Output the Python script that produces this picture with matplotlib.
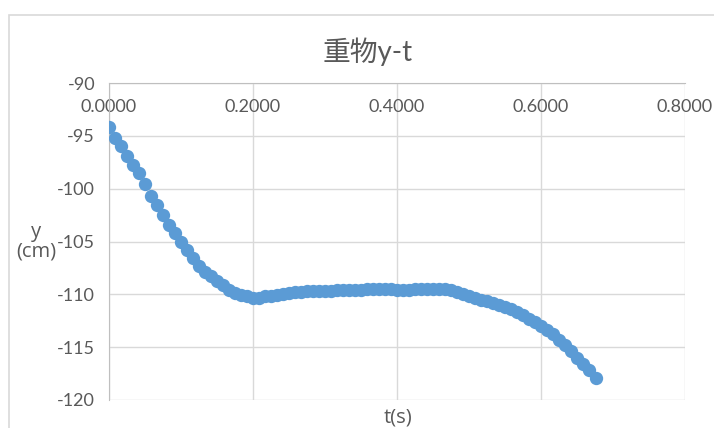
import matplotlib
matplotlib.use("Agg")
import matplotlib.pyplot as plt
from matplotlib.patches import Rectangle

# time (s), sampled every frame
t = [0.0000, 0.0083, 0.0167, 0.0250, 0.0333, 0.0417, 0.0500, 0.0583, 0.0667, 0.0750,
     0.0833, 0.0917, 0.1000, 0.1083, 0.1167, 0.1250, 0.1333, 0.1417, 0.1500, 0.1583,
     0.1667, 0.1750, 0.1833, 0.1917, 0.2000, 0.2083, 0.2167, 0.2250, 0.2333, 0.2417,
     0.2500, 0.2583, 0.2667, 0.2750, 0.2833, 0.2917, 0.3000, 0.3083, 0.3167, 0.3250,
     0.3333, 0.3417, 0.3500, 0.3583, 0.3667, 0.3750, 0.3833, 0.3917, 0.4000, 0.4083,
     0.4167, 0.4250, 0.4333, 0.4417, 0.4500, 0.4583, 0.4667, 0.4750, 0.4833, 0.4917,
     0.5000, 0.5083, 0.5167, 0.5250, 0.5333, 0.5417, 0.5500, 0.5583, 0.5667, 0.5750,
     0.5833, 0.5917, 0.6000, 0.6083, 0.6167, 0.6250, 0.6333, 0.6417, 0.6500, 0.6583,
     0.6667, 0.6770]

# height of the weight (cm)
y = [-94.2, -95.2, -96.0, -96.9, -97.8, -98.5, -99.6, -100.7, -101.5, -102.5,
     -103.4, -104.2, -105.0, -105.8, -106.6, -107.3, -107.9, -108.3, -108.7, -109.1,
     -109.6, -109.9, -110.1, -110.2, -110.3, -110.3, -110.2, -110.2, -110.1, -110.0,
     -109.9, -109.8, -109.8, -109.7, -109.7, -109.7, -109.7, -109.7, -109.6, -109.6,
     -109.6, -109.6, -109.6, -109.5, -109.5, -109.5, -109.5, -109.5, -109.6, -109.6,
     -109.6, -109.5, -109.5, -109.5, -109.5, -109.5, -109.5, -109.6, -109.8, -110.0,
     -110.2, -110.3, -110.5, -110.6, -110.8, -111.0, -111.2, -111.4, -111.7, -112.0,
     -112.3, -112.6, -113.0, -113.4, -113.8, -114.3, -114.8, -115.4, -116.0, -116.6,
     -117.2, -117.9]

x_ticks = [0.0, 0.2, 0.4, 0.6, 0.8]
y_ticks = [-90, -95, -100, -105, -110, -115, -120]

TEXT = "#595959"
GRID = "#d9d9d9"
BLUE = "#5b9bd5"
FONT = ["Lato", "Noto Sans CJK JP", "DejaVu Sans"]

plt.rcParams["font.family"] = FONT

W, H = 714, 428
fig = plt.figure(figsize=(W / 100, H / 100), dpi=100)

# chart frame
fig.patches.append(Rectangle((9 / W, -0.1), 1.2, 1.1 - 15 / H, transform=fig.transFigure,
                             fill=False, edgecolor=GRID, linewidth=1.2))

ax = fig.add_axes([109 / W, 1 - 400 / H, (685 - 109) / W, (400 - 83) / H])
ax.scatter(t, y, s=92, color=BLUE, zorder=3, linewidths=0)

ax.set_xlim(0, 0.8)
ax.set_ylim(-120, -90)
ax.set_xticks(x_ticks)
ax.set_yticks(y_ticks)
ax.set_xticklabels([f"{v:.4f}" for v in x_ticks])
ax.set_yticklabels([str(v) for v in y_ticks])

ax.grid(True, color=GRID, linewidth=1.0)
ax.set_axisbelow(True)
for side in ["right", "bottom"]:
    ax.spines[side].set_visible(False)
ax.spines["left"].set_color("#bfbfbf")
ax.spines["top"].set_color("#bfbfbf")

# x labels sit under the top axis line
ax.xaxis.set_ticks_position("top")
ax.tick_params(axis="x", length=0, labeltop=True, labelbottom=False,
               pad=-23, labelsize=13, labelcolor=TEXT)
ax.tick_params(axis="y", length=0, pad=10, labelsize=13, labelcolor=TEXT)

fig.text(368 / W, 1 - 52 / H, "重物y-t", ha="center", va="center",
         fontsize=20, color=TEXT)
fig.text(398 / W, 1 - 417 / H, "t(s)", ha="center", va="center",
         fontsize=14.5, color=TEXT, family=["Open Sans", "DejaVu Sans"])
fig.text(36 / W, 1 - 242 / H, "y\n(cm)", ha="center", va="center",
         fontsize=14.5, color=TEXT, linespacing=0.95,
         family=["Open Sans", "DejaVu Sans"])

fig.savefig("out.png", dpi=100)
